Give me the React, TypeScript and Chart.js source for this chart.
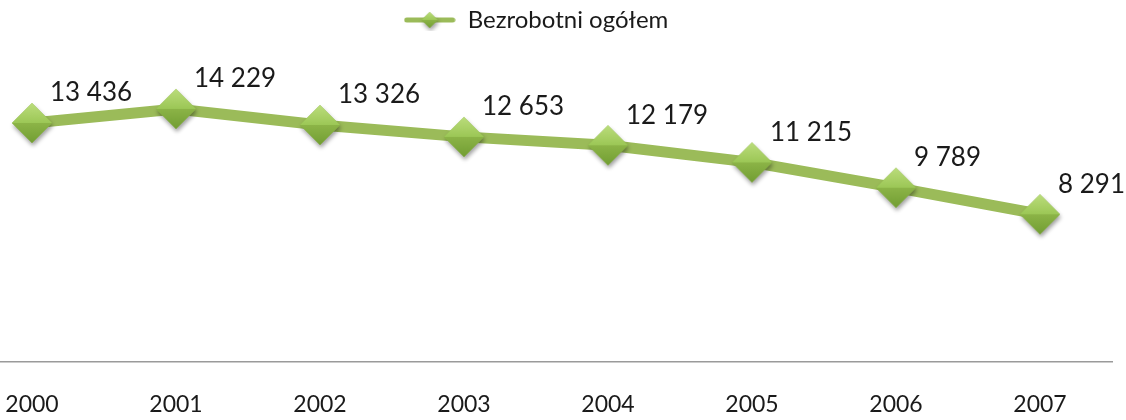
import React, { useEffect, useRef } from "react";
import { Chart, registerables } from "chart.js";

Chart.register(...registerables);

const years = ["2000", "2001", "2002", "2003", "2004", "2005", "2006", "2007"];
const unemployed = [13436, 14229, 13326, 12653, 12179, 11215, 9789, 8291];
const seriesLabel = "Bezrobotni ogółem";

const FONT = "Lato, 'Open Sans', sans-serif";
const LINE_GREEN = "#9BBB59";

function fmt(n: number): string {
  return String(n).replace(/\B(?=(\d{3})+(?!\d))/g, " ");
}

function drawDiamond(ctx: CanvasRenderingContext2D, cx: number, cy: number, r: number, shadow: boolean) {
  ctx.save();
  if (shadow) {
    ctx.shadowColor = "rgba(0,0,0,0.38)";
    ctx.shadowBlur = 4;
    ctx.shadowOffsetY = 3;
    ctx.shadowOffsetX = 1;
  }
  ctx.beginPath();
  ctx.moveTo(cx, cy - r);
  ctx.lineTo(cx + r, cy);
  ctx.lineTo(cx, cy + r);
  ctx.lineTo(cx - r, cy);
  ctx.closePath();
  ctx.fillStyle = "#8DB548";
  ctx.fill();
  ctx.restore();
  ctx.save();
  const g1 = ctx.createLinearGradient(cx, cy - r, cx, cy);
  g1.addColorStop(0, "#BBDD7C");
  g1.addColorStop(1, "#9CC756");
  ctx.beginPath();
  ctx.moveTo(cx, cy - r);
  ctx.lineTo(cx + r, cy);
  ctx.lineTo(cx - r, cy);
  ctx.closePath();
  ctx.fillStyle = g1;
  ctx.fill();
  const g2 = ctx.createLinearGradient(cx, cy, cx, cy + r);
  g2.addColorStop(0, "#8CB447");
  g2.addColorStop(1, "#729E33");
  ctx.beginPath();
  ctx.moveTo(cx - r, cy);
  ctx.lineTo(cx + r, cy);
  ctx.lineTo(cx, cy + r);
  ctx.closePath();
  ctx.fillStyle = g2;
  ctx.fill();
  ctx.restore();
}

function makeMarker(): HTMLCanvasElement {
  const c = document.createElement("canvas");
  c.width = 50;
  c.height = 54;
  const ctx = c.getContext("2d")!;
  drawDiamond(ctx, 25, 27, 20, true);
  return c;
}

function makeLegendIcon(): HTMLCanvasElement {
  const c = document.createElement("canvas");
  c.width = 52;
  c.height = 22;
  const ctx = c.getContext("2d")!;
  ctx.strokeStyle = LINE_GREEN;
  ctx.lineWidth = 5;
  ctx.lineCap = "round";
  ctx.beginPath();
  ctx.moveTo(3, 11);
  ctx.lineTo(49, 11);
  ctx.stroke();
  drawDiamond(ctx, 26, 11, 8, true);
  return c;
}

const dataLabelPlugin = {
  id: "dataLabels",
  afterDatasetsDraw(chart: any) {
    const ctx = chart.ctx as CanvasRenderingContext2D;
    const meta = chart.getDatasetMeta(0);
    const values = chart.data.datasets[0].data as number[];
    ctx.save();
    ctx.font = `26px ${FONT}`;
    ctx.fillStyle = "#1a1a1a";
    ctx.textAlign = "left";
    ctx.textBaseline = "middle";
    meta.data.forEach((pt: any, i: number) => {
      ctx.fillText(fmt(values[i]), pt.x + 18, pt.y - 30);
    });
    ctx.restore();
  },
};

export default function App() {
  const ref = useRef<HTMLCanvasElement | null>(null);

  useEffect(() => {
    if (!ref.current) return;
    const marker = makeMarker();
    const legendIcon = makeLegendIcon();
    const chart = new Chart(ref.current, {
      type: "line",
      data: {
        labels: years,
        datasets: [
          {
            label: seriesLabel,
            data: unemployed,
            borderColor: LINE_GREEN,
            backgroundColor: LINE_GREEN,
            borderWidth: 11,
            tension: 0,
            pointStyle: marker as any,
            pointRadius: 20,
            borderJoinStyle: "round",
          },
        ],
      },
      options: {
        responsive: false,
        animation: false,
        layout: { autoPadding: false, padding: { top: 0, right: 14, bottom: 1, left: 0 } },
        plugins: {
          legend: {
            position: "top",
            labels: {
              usePointStyle: true,
              pointStyle: legendIcon as any,
              pointStyleWidth: 52,
              padding: 8,
              color: "#1a1a1a",
              font: { family: FONT, size: 24 },
            },
          },
          tooltip: { enabled: false },
        },
        scales: {
          x: {
            type: "category",
            offset: true,
            grid: { display: false, drawTicks: false },
            border: { display: true, color: "#9a9a9a", width: 1.5 },
            ticks: {
              color: "#1a1a1a",
              padding: 29,
              maxRotation: 0,
              autoSkip: false,
              font: { family: FONT, size: 23 },
            },
          },
          y: {
            display: false,
            min: 0,
            max: 18000,
          },
        },
      },
      plugins: [dataLabelPlugin],
    });
    return () => chart.destroy();
  }, []);

  return (
    <div
      style={{
        position: "fixed",
        left: 0,
        top: 0,
        width: 1126,
        height: 420,
        overflow: "hidden",
        background: "#fff",
      }}
    >
      <div style={{ position: "absolute", left: -40, top: 0, width: 1166, height: 448 }}>
        <canvas ref={ref} width={1166} height={448} />
      </div>
    </div>
  );
}
